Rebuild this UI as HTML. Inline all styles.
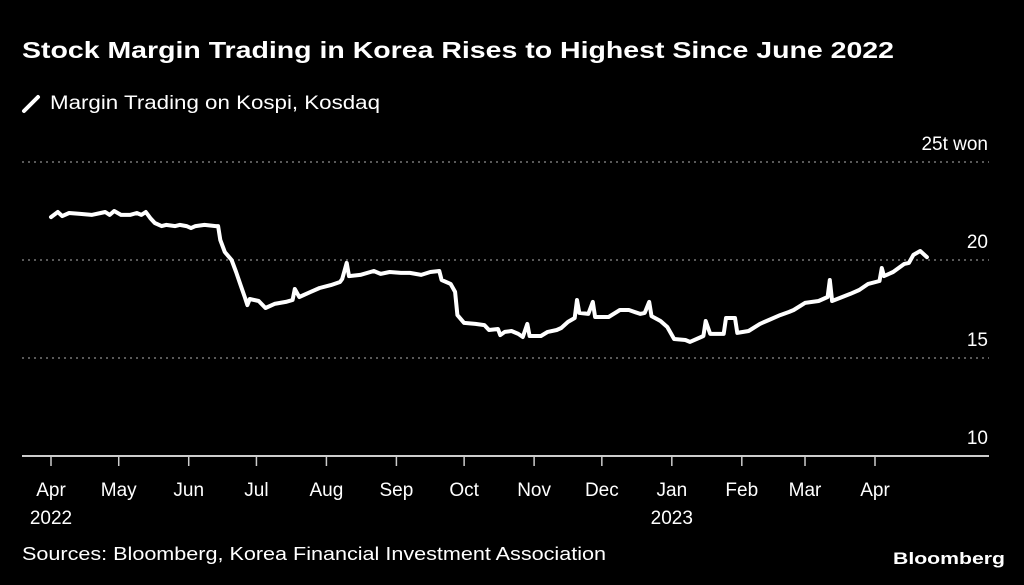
<!DOCTYPE html>
<html><head><meta charset="utf-8"><style>
html,body{margin:0;padding:0;background:#000;width:1024px;height:585px;overflow:hidden}
svg{display:block}
text{font-family:"Liberation Sans",sans-serif;fill:#fff}
</style></head><body>
<svg id="chart" width="1024" height="585" viewBox="0 0 1024 585">
<text x="22" y="58" font-size="23" font-weight="bold" textLength="872" lengthAdjust="spacingAndGlyphs">Stock Margin Trading in Korea Rises to Highest Since June 2022</text>
<g>
<line x1="24" y1="111" x2="38" y2="97" stroke="#fff" stroke-width="4" stroke-linecap="round"/>
<text x="50" y="109" font-size="19" fill="#ddd" textLength="330" lengthAdjust="spacingAndGlyphs">Margin Trading on Kospi, Kosdaq</text>
</g>
<g id="grid"></g><g id="xaxis"></g>
<path id="line" fill="none" stroke="#fff" stroke-width="4" stroke-linejoin="round" stroke-linecap="round"/>
<text x="22" y="560" font-size="18" fill="#ccc" textLength="584" lengthAdjust="spacingAndGlyphs">Sources: Bloomberg, Korea Financial Investment Association</text>
<text x="1005" y="564" font-size="17" font-weight="bold" text-anchor="end" textLength="112" lengthAdjust="spacingAndGlyphs">Bloomberg</text>
</svg>
<script>
const yTicks=[10,15,20,25];
const yTickLabels=["10","15","20","25t won"];
const monthDays=[0,30,61,91,122,153,183,214,244,275,306,334,365];
const monthLabels=["Apr","May","Jun","Jul","Aug","Sep","Oct","Nov","Dec","Jan","Feb","Mar","Apr"];
const yearLabels=["2022","","","","","","","","","2023","","",""];
const days=[0,3,5,8,13,18,22,24,26,28,31,35,38,40,42,44,46,49,51,55,57,60,62,64,68,73,74,75,77,80,82,84,86,87,88,92,95,99,104,107,108,110,115,119,124,128,129,131,132,137,143,146,150,155,159,164,168,172,173,177,179,180,183,188,192,194,198,199,201,204,207,209,211,212,217,220,224,226,229,232,233,234,238,240,241,247,252,256,261,263,265,266,270,273,276,281,283,287,289,290,292,298,299,303,304,309,314,318,323,327,329,334,340,344,345,346,354,358,362,367,368,369,373,378,380,382,385,388];
const values=[22.19,22.45,22.24,22.40,22.35,22.30,22.40,22.45,22.30,22.50,22.30,22.30,22.40,22.30,22.45,22.14,21.89,21.73,21.79,21.73,21.79,21.73,21.63,21.73,21.79,21.73,21.73,21.02,20.41,20.0,19.39,18.72,18.06,17.70,18.01,17.91,17.55,17.76,17.86,17.96,18.52,18.11,18.37,18.57,18.72,18.88,19.03,19.85,19.18,19.24,19.44,19.29,19.39,19.34,19.34,19.24,19.39,19.44,18.98,18.78,18.37,17.19,16.79,16.74,16.68,16.43,16.48,16.17,16.33,16.38,16.23,16.07,16.74,16.12,16.12,16.33,16.43,16.53,16.84,17.04,17.96,17.30,17.25,17.86,17.09,17.09,17.45,17.45,17.25,17.30,17.86,17.14,16.89,16.58,15.97,15.92,15.82,16.02,16.12,16.89,16.23,16.23,17.04,17.04,16.28,16.38,16.74,16.94,17.19,17.35,17.45,17.81,17.91,18.11,18.98,17.91,18.27,18.47,18.78,18.93,19.59,19.18,19.39,19.80,19.85,20.26,20.46,20.15];
const NS="http://www.w3.org/2000/svg";
const x=d=>51+d*(824/365);
const y=v=>456-(v-10)*19.6;
const grid=document.getElementById('grid');
yTicks.forEach((t,i)=>{
  const l=document.createElementNS(NS,'line');
  
  
  l.setAttribute('x1',22);l.setAttribute('x2',989);l.setAttribute('y1',y(t));l.setAttribute('y2',y(t));
  if(t===10){l.setAttribute('stroke','#ccc');l.setAttribute('stroke-width','2');}
  else{l.setAttribute('stroke','#777');l.setAttribute('stroke-width','1.5');l.setAttribute('stroke-dasharray','2 4');}
  grid.appendChild(l);
  const tx=document.createElementNS(NS,'text');
  
  
  tx.setAttribute('x',988);tx.setAttribute('y',y(t)-12);tx.setAttribute('text-anchor','end');tx.setAttribute('font-size','19');tx.setAttribute('fill','#ddd');
  tx.textContent=yTickLabels[i];grid.appendChild(tx);
});
const xa=document.getElementById('xaxis');
monthDays.forEach((d,i)=>{
  const l=document.createElementNS(NS,'line');
  
  
  l.setAttribute('x1',x(d));l.setAttribute('x2',x(d));l.setAttribute('y1',457);l.setAttribute('y2',466);l.setAttribute('stroke','#ccc');l.setAttribute('stroke-width','1.5');
  xa.appendChild(l);
  const t=document.createElementNS(NS,'text');
  
  
  t.setAttribute('x',x(d));t.setAttribute('y',496);t.setAttribute('text-anchor','middle');t.setAttribute('font-size','19');t.setAttribute('fill','#ddd');
  t.textContent=monthLabels[i];xa.appendChild(t);
  if(yearLabels[i]){
    const yt=document.createElementNS(NS,'text');
    
    
    yt.setAttribute('x',x(d));yt.setAttribute('y',524);yt.setAttribute('text-anchor','middle');yt.setAttribute('font-size','19');yt.setAttribute('fill','#ddd');
    yt.textContent=yearLabels[i];xa.appendChild(yt);
  }
});
document.getElementById('line').setAttribute('d',days.map((d,i)=>(i?'L':'M')+x(d).toFixed(1)+' '+y(values[i]).toFixed(1)).join(' '));
</script>
</body></html>
